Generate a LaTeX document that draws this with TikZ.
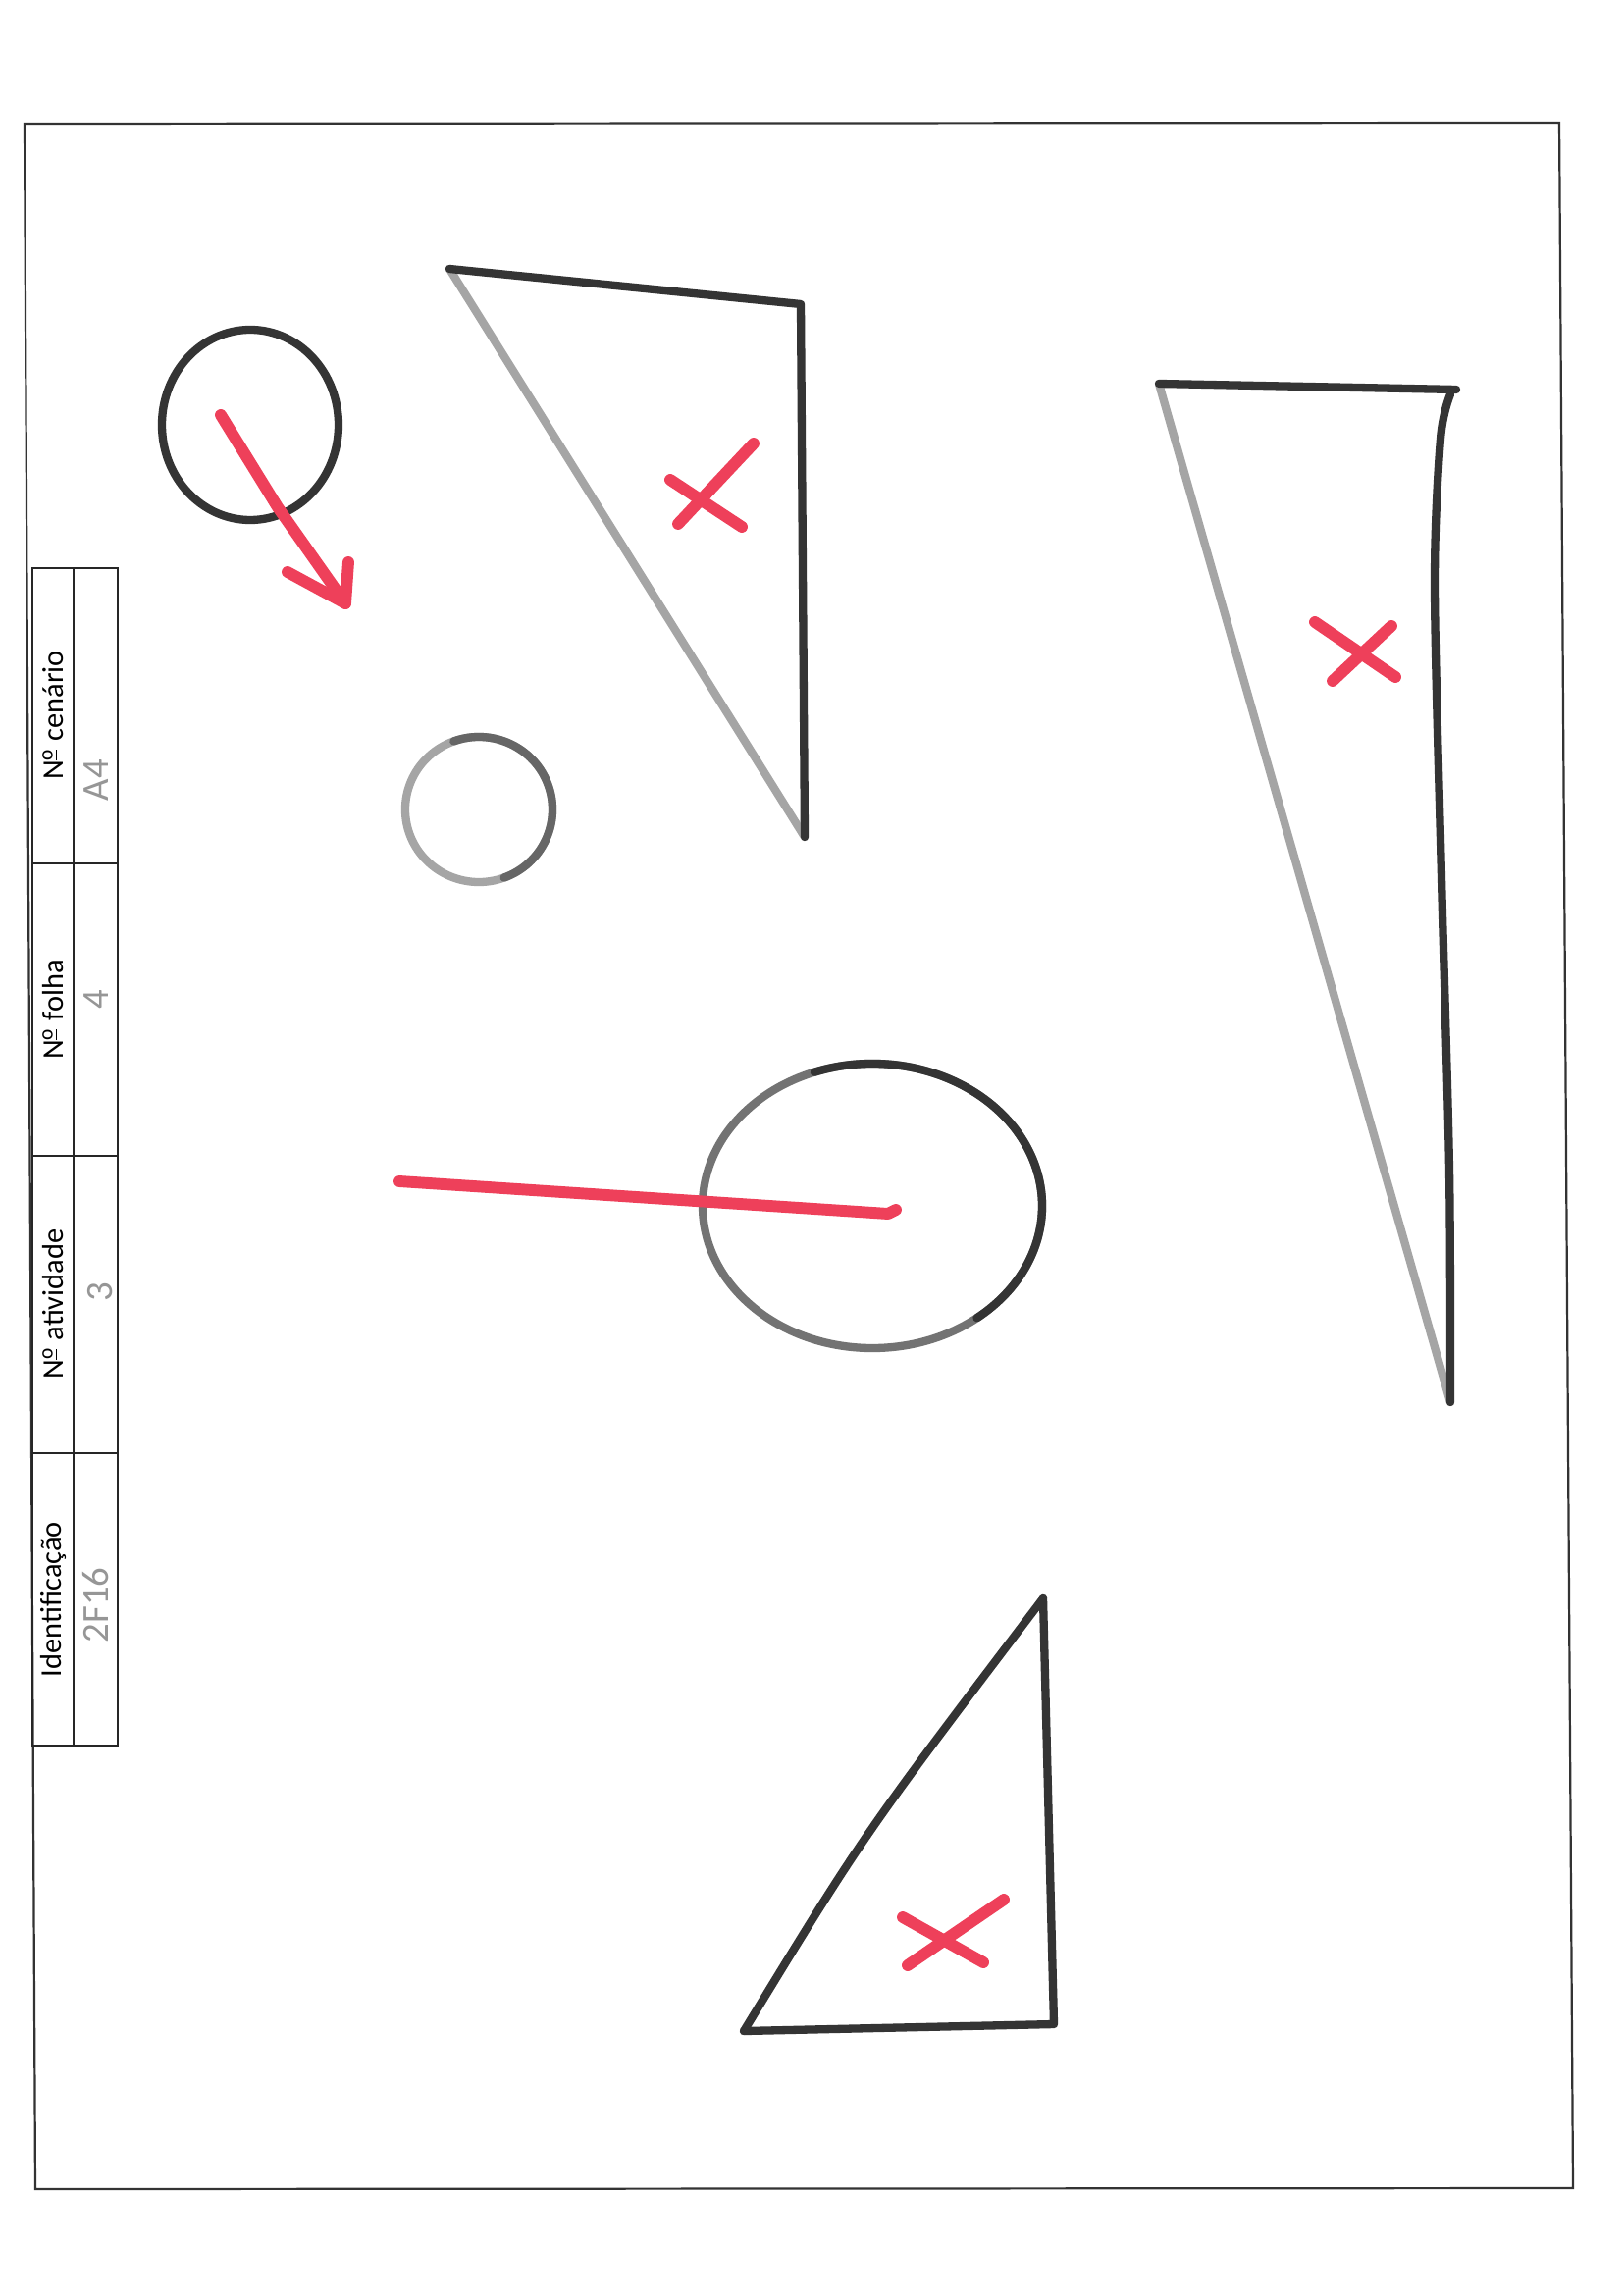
\documentclass[tikz,border=0pt]{standalone}
\usepackage{fontspec}
\setmainfont{Carlito}
\usetikzlibrary{calc}
\definecolor{inkdark}{RGB}{52,52,52}
\definecolor{inklight}{RGB}{165,165,165}
\definecolor{markred}{RGB}{238,64,90}
\definecolor{pencil}{RGB}{150,150,150}
\newcommand{\numo}{N\textsuperscript{\underline{o}}}

\begin{document}
\begin{tikzpicture}[
  x=0.127mm, y=-0.127mm,
  frame/.style={draw=black!80, line width=0.8pt},
  grid/.style={draw=black!85, line width=0.8pt},
  ink/.style={draw=inkdark, line width=3pt, line cap=round, line join=round},
  inkpale/.style={ink, draw=inklight},
  redmark/.style={draw=markred, line width=4.3pt, line cap=round, line join=round},
  lbl/.style={rotate=90, font=\fontsize{11pt}{13pt}\selectfont, inner sep=0pt},
  hand/.style={rotate=90, font=\fontsize{14pt}{16pt}\selectfont, text=pencil, inner sep=0pt}
]
  \fill[white] (0,0) rectangle (1654,2338);
  \useasboundingbox (0,0) rectangle (1654,2338);

  \draw[frame] (25,126) -- (1589,125) -- (1603,2230) -- (36,2231) -- cycle;

  % form table
  \draw[grid] (33,579) rectangle (120,1779);
  \draw[grid] (75,579) -- (75,1779);
  \foreach \yy in {880,1178,1481}
    \draw[grid] (33,\yy) -- (120,\yy);
  \node[lbl] (cen) at (54,729) {\numo{} cenário};
  \node[lbl] (fol) at (54,1029) {\numo{} folha};
  \node[lbl] (ati) at (54,1329) {\numo{} atividade};
  \node[lbl] (ide) at (54,1630) {Identificação};
  \node[hand] (vcen) at (98,795) {A4};
  \node[hand] (vfol) at (98,1019) {4};
  \node[hand] (vati) at (102,1317) {3};
  \node[hand] (vide) at (98,1636) {2F16};

  % small circle with arrow
  \coordinate (c1) at (255,433);
  \draw[ink] (c1) ellipse [x radius=90, y radius=97];
  \coordinate (a1) at (225,423);
  \coordinate (a2) at (352,615);
  \draw[redmark] (a1) -- (283,517) -- (a2);
  \draw[redmark] (293,583) -- (a2) -- (355,573);

  % pale circle
  \coordinate (c2) at (488,825);
  \draw[inkpale] (c2) ellipse [x radius=75, y radius=74];
  \draw[ink, draw=black!60] ($(c2)+(250:75 and 74)$) arc[start angle=250, end angle=430, x radius=75, y radius=74];

  % triangle one
  \coordinate (t1a) at (458,274);
  \coordinate (t1b) at (816,310);
  \coordinate (t1c) at (820,853);
  \draw[inkpale] (t1a) -- (t1c);
  \draw[ink] (t1a) -- (t1b) -- (t1c);
  \draw[redmark] (768,452) -- (691,534);
  \draw[redmark] (683,489) -- (756,537);

  % triangle two
  \coordinate (t2a) at (1181,391);
  \coordinate (t2b) at (1484,397);
  \coordinate (t2c) at (1478,1429);
  \draw[inkpale] (t2a) -- (t2c);
  \draw[ink] (t2a) -- (t2b);
  \draw[ink] plot[smooth] coordinates {(1478,402) (1468,447) (1462,597) (1469,895) (1477,1193) (1478,1429)};
  \draw[redmark] (1340,634) -- (1422,690);
  \draw[redmark] (1418,638) -- (1358,694);

  % big circle and line
  \coordinate (c3) at (889,1229);
  \draw[inkpale, draw=black!55] (c3) ellipse [x radius=173, y radius=145];
  \draw[ink] ($(c3)+(250:173 and 145)$) arc[start angle=250, end angle=412, x radius=173, y radius=145];
  \coordinate (r1) at (407,1204);
  \coordinate (r2) at (905,1237);
  \draw[redmark] (r1) -- (r2) -- (913,1233);

  % triangle three
  \coordinate (t3a) at (1063,1629);
  \coordinate (t3b) at (758,2070);
  \coordinate (t3c) at (1074,2063);
  \draw[ink] (t3b) .. controls (880,1870) .. (t3a);
  \draw[ink] (t3a) -- (t3c) -- (t3b);
  \draw[redmark] (1023,1936) -- (925,2003);
  \draw[redmark] (920,1954) -- (1002,2000);
\end{tikzpicture}
\end{document}
